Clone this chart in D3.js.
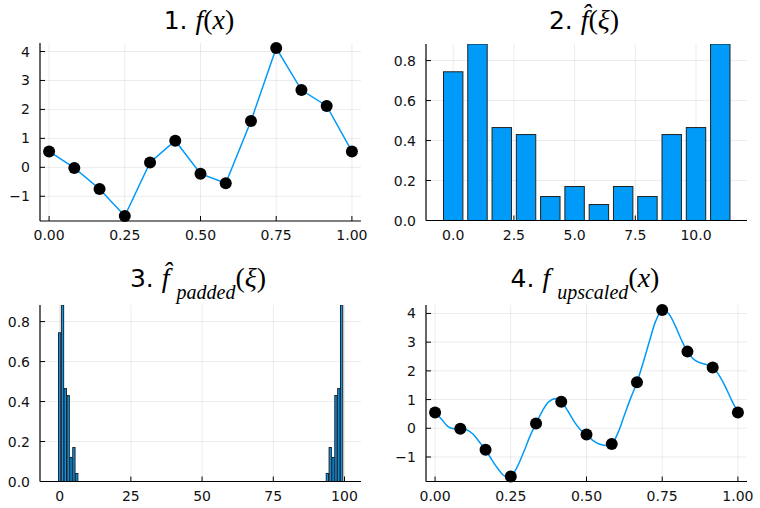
<!DOCTYPE html>
<html lang="en">
<head>
<meta charset="UTF-8">
<title>FFT upscaling</title>
<script src="https://d3js.org/d3.v7.min.js"></script>
<style>
  body { margin: 0; background: #fff; }
  text { font-family: "DejaVu Sans", sans-serif; }
</style>
</head>
<body>
<div id="chart"></div>
<script>
// samples of f(x) on [0,1]
var xs = [0, 1/12, 2/12, 3/12, 4/12, 5/12, 6/12, 7/12, 8/12, 9/12, 10/12, 11/12, 1];
var fx = [0.55, -0.02, -0.75, -1.68, 0.17, 0.92, -0.22, -0.55, 1.60, 4.12, 2.67, 2.12, 0.55];

// |fft| / n
var freqIdx = [0, 1, 2, 3, 4, 5, 6, 7, 8, 9, 10, 11];
var fhat = [0.744, 0.883, 0.465, 0.43, 0.12, 0.17, 0.08, 0.17, 0.12, 0.43, 0.465, 0.883];

// padded spectrum, non-zero bins only (all other bins of 0..99 are zero)
var padIdx = [0, 1, 2, 3, 4, 5, 6, 94, 95, 96, 97, 98, 99];
var padVal = [0.744, 0.883, 0.465, 0.43, 0.12, 0.17, 0.04, 0.04, 0.17, 0.12, 0.43, 0.465, 0.883];

// upscaled curve, x = k/48
var upX = d3.range(49).map(function(k) { return k / 48; });
var upY = [0.55, 0.32, 0.07, -0.02, -0.02, -0.05, -0.2, -0.47, -0.75, -1.1, -1.42, -1.66, -1.68,
           -1.35, -0.85, -0.3, 0.17, 0.6, 0.92, 1.03, 0.92, 0.62, 0.25, -0.04, -0.22,
           -0.42, -0.55, -0.6, -0.55, -0.15, 0.45, 1.05, 1.6, 2.3, 3.05, 3.75, 4.12,
           4.0, 3.6, 3.1, 2.67, 2.4, 2.28, 2.22, 2.12, 1.85, 1.45, 0.98, 0.55];

var xTicksUnit = [0, 0.25, 0.5, 0.75, 1];
var yTicksF = [-1, 0, 1, 2, 3, 4];
var xTicksFreq = [0, 2.5, 5, 7.5, 10];
var xTicksPad = [0, 25, 50, 75, 100];
var yTicksAmp = [0, 0.2, 0.4, 0.6, 0.8];

var blue = "#009af9";

var svg = d3.select("#chart").append("svg")
  .attr("width", 760).attr("height", 508);

function panel(box, xDom, yDom, xTicks, yTicks, xFmt, yFmt, id) {
  var x = d3.scaleLinear().domain(xDom).range([box.left, box.right]);
  var y = d3.scaleLinear().domain(yDom).range([box.bottom, box.top]);
  var g = svg.append("g");

  svg.append("defs").append("clipPath").attr("id", id)
    .append("rect")
    .attr("x", box.left).attr("y", box.top)
    .attr("width", box.right - box.left).attr("height", box.bottom - box.top);

  // grid
  g.selectAll(".gx").data(xTicks).enter().append("line")
    .attr("x1", function(d) { return x(d); }).attr("x2", function(d) { return x(d); })
    .attr("y1", box.top).attr("y2", box.bottom)
    .attr("stroke", "#000").attr("stroke-opacity", 0.1).attr("stroke-width", 0.8);
  g.selectAll(".gy").data(yTicks).enter().append("line")
    .attr("y1", function(d) { return y(d); }).attr("y2", function(d) { return y(d); })
    .attr("x1", box.left).attr("x2", box.right)
    .attr("stroke", "#000").attr("stroke-opacity", 0.1).attr("stroke-width", 0.8);

  // inward ticks
  g.selectAll(".tx").data(xTicks).enter().append("line")
    .attr("x1", function(d) { return x(d); }).attr("x2", function(d) { return x(d); })
    .attr("y1", box.bottom).attr("y2", box.bottom - 5)
    .attr("stroke", "#000").attr("stroke-width", 1);
  g.selectAll(".ty").data(yTicks).enter().append("line")
    .attr("y1", function(d) { return y(d); }).attr("y2", function(d) { return y(d); })
    .attr("x1", box.left).attr("x2", box.left + 5)
    .attr("stroke", "#000").attr("stroke-width", 1);

  // tick labels
  g.selectAll(".lx").data(xTicks).enter().append("text")
    .attr("x", function(d) { return x(d); }).attr("y", box.bottom + 19)
    .attr("text-anchor", "middle").attr("font-size", 14).attr("fill", "#111")
    .text(xFmt);
  g.selectAll(".ly").data(yTicks).enter().append("text")
    .attr("x", box.left - 10).attr("y", function(d) { return y(d) + 5; })
    .attr("text-anchor", "end").attr("font-size", 14).attr("fill", "#111")
    .text(yFmt);

  var marks = svg.append("g").attr("clip-path", "url(#" + id + ")");

  // axis lines drawn after marks
  var axes = function() {
    svg.append("line").attr("x1", box.left).attr("x2", box.right)
      .attr("y1", box.bottom).attr("y2", box.bottom)
      .attr("stroke", "#000").attr("stroke-width", 1.2);
    svg.append("line").attr("x1", box.left).attr("x2", box.left)
      .attr("y1", box.top).attr("y2", box.bottom)
      .attr("stroke", "#000").attr("stroke-width", 1.2);
  };
  return { x: x, y: y, g: marks, axes: axes };
}

// title: sans number followed by serif math; it = italic, sub = subscript
function title(cx, base, parts) {
  var t = svg.append("text").attr("x", cx).attr("y", base)
    .attr("text-anchor", "middle").attr("font-size", 25).attr("fill", "#000");
  parts.forEach(function(p) {
    var s = t.append("tspan").text(p.t);
    if (p.m) s.style("font-family", "'Liberation Serif', serif").attr("font-size", 28);
    if (p.it) s.attr("font-style", "italic");
    if (p.sub) s.attr("font-size", 20);
    if (p.dy) s.attr("dy", p.dy);
  });
}

var minus = function(d) { return d3.format("")(d).replace("-", "\u2212"); };
var f2 = d3.format(".2f"), f1 = d3.format(".1f"), f0 = d3.format("d");

function pad3(lo, hi) { var m = (hi - lo) * 0.03; return [lo - m, hi + m]; }

// 1. f(x)
var p1 = panel({left: 40, right: 361, top: 43, bottom: 221}, pad3(0, 1), pad3(d3.min(fx), d3.max(fx)),
  xTicksUnit, yTicksF, f2, minus, "c1");
p1.g.append("path").datum(d3.range(xs.length))
  .attr("fill", "none").attr("stroke", blue).attr("stroke-width", 1.5)
  .attr("d", d3.line().x(function(i) { return p1.x(xs[i]); }).y(function(i) { return p1.y(fx[i]); }));
p1.axes();
svg.append("g").selectAll("circle").data(d3.range(xs.length)).enter().append("circle")
  .attr("cx", function(i) { return p1.x(xs[i]); }).attr("cy", function(i) { return p1.y(fx[i]); })
  .attr("r", 6).attr("fill", "#000");
title(199, 29, [{t: "1. "}, {t: "f", m: 1, it: 1}, {t: "(", m: 1}, {t: "x", m: 1, it: 1}, {t: ")", m: 1}]);

// 2. fhat
var p2 = panel({left: 426, right: 747, top: 44, bottom: 220.5}, [-1.12, 12.1], [0, d3.max(fhat)],
  xTicksFreq, yTicksAmp, f1, f1, "c2");
p2.g.selectAll("rect").data(freqIdx).enter().append("rect")
  .attr("x", function(i) { return p2.x(freqIdx[i] - 0.4); })
  .attr("width", function(i) { return p2.x(freqIdx[i] + 0.4) - p2.x(freqIdx[i] - 0.4); })
  .attr("y", function(i) { return p2.y(fhat[i]); })
  .attr("height", function(i) { return p2.y(0) - p2.y(fhat[i]); })
  .attr("fill", blue).attr("stroke", "#222").attr("stroke-width", 1);
p2.axes();
title(584, 29, [{t: "2. "}, {t: "f\u0302", m: 1, it: 1}, {t: "(", m: 1}, {t: "\u03be", m: 1, it: 1}, {t: ")", m: 1}]);

// 3. padded spectrum
var p3 = panel({left: 40, right: 361, top: 305, bottom: 481.5}, [-6.9, 105.8], [0, d3.max(padVal)],
  xTicksPad, yTicksAmp, f0, f1, "c3");
p3.g.selectAll("rect").data(d3.range(padIdx.length)).enter().append("rect")
  .attr("x", function(i) { return p3.x(padIdx[i] - 0.4); })
  .attr("width", function(i) { return p3.x(padIdx[i] + 0.4) - p3.x(padIdx[i] - 0.4); })
  .attr("y", function(i) { return p3.y(padVal[i]); })
  .attr("height", function(i) { return p3.y(0) - p3.y(padVal[i]); })
  .attr("fill", blue).attr("stroke", "#222").attr("stroke-width", 1);
p3.axes();
title(198, 287, [{t: "3. "}, {t: "f\u0302 ", m: 1, it: 1}, {t: "padded", m: 1, it: 1, sub: 1, dy: 12},
  {t: "(", m: 1, dy: -12}, {t: "\u03be", m: 1, it: 1}, {t: ")", m: 1}]);

// 4. upscaled
var p4 = panel({left: 426, right: 747, top: 305, bottom: 481.5}, pad3(0, 1), pad3(d3.min(upY), d3.max(upY)),
  xTicksUnit, yTicksF, f2, minus, "c4");
p4.g.append("path").datum(d3.range(upX.length))
  .attr("fill", "none").attr("stroke", blue).attr("stroke-width", 1.5)
  .attr("d", d3.line().curve(d3.curveCatmullRom)
    .x(function(i) { return p4.x(upX[i]); }).y(function(i) { return p4.y(upY[i]); }));
p4.axes();
svg.append("g").selectAll("circle").data(d3.range(xs.length)).enter().append("circle")
  .attr("cx", function(i) { return p4.x(xs[i]); }).attr("cy", function(i) { return p4.y(fx[i]); })
  .attr("r", 6).attr("fill", "#000");
title(585, 287, [{t: "4. "}, {t: "f ", m: 1, it: 1}, {t: "upscaled", m: 1, it: 1, sub: 1, dy: 12},
  {t: "(", m: 1, dy: -12}, {t: "x", m: 1, it: 1}, {t: ")", m: 1}]);
</script>
</body>
</html>
